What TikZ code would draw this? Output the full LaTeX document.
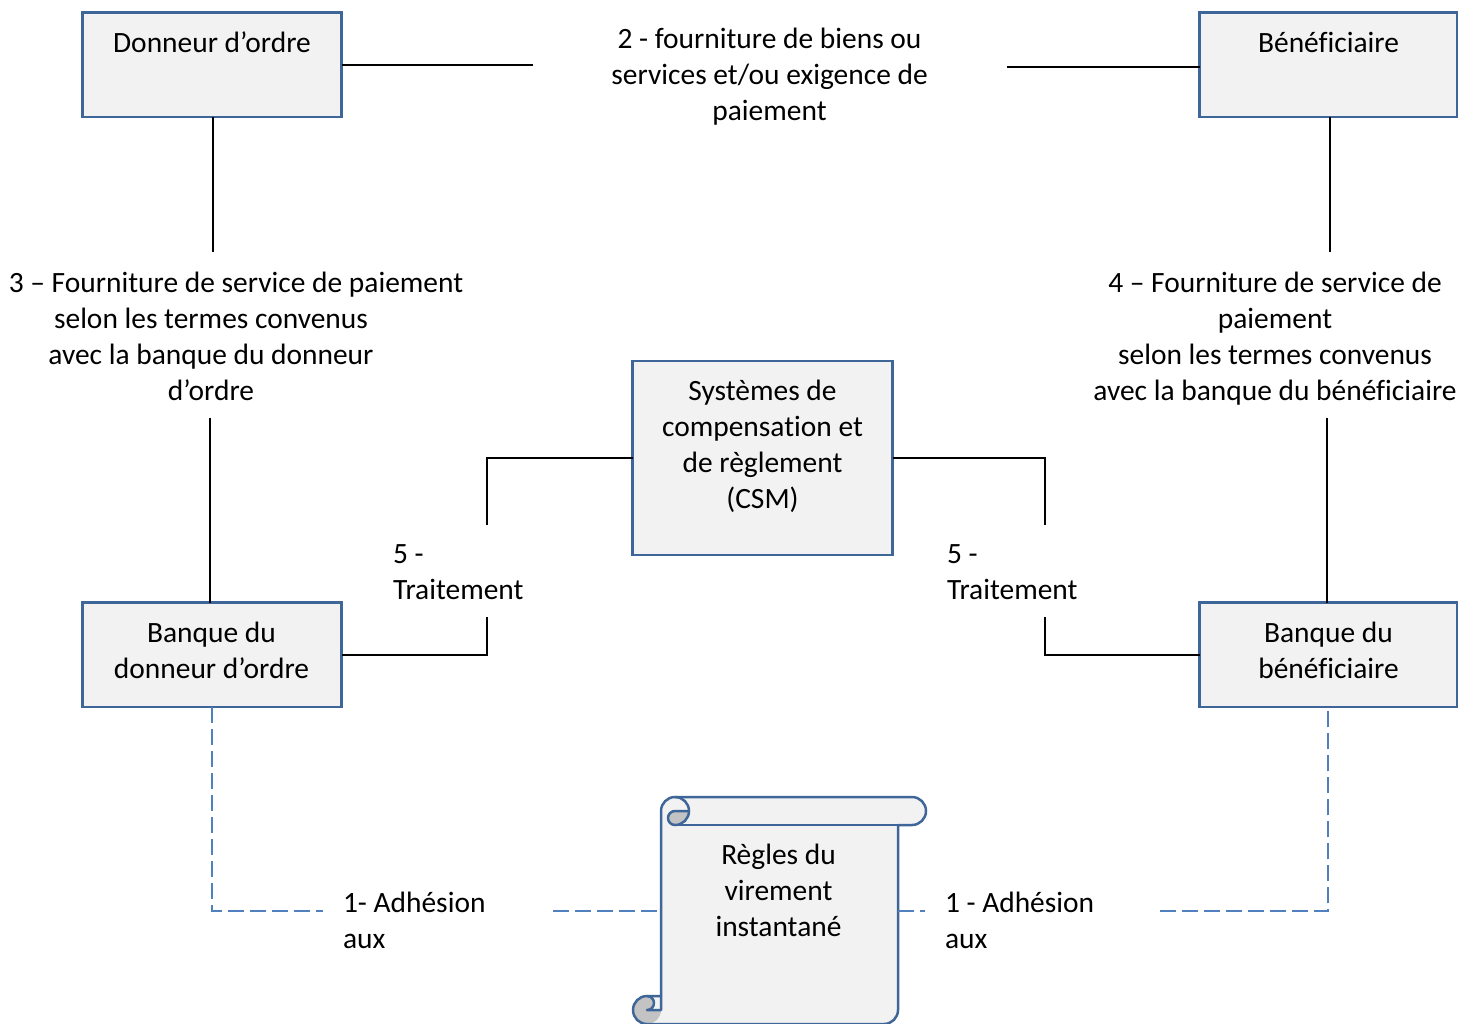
\documentclass[tikz,border=0pt]{standalone}
\usepackage{fontspec}
\setmainfont{Carlito}[Ligatures={NoCommon}]
\definecolor{boxline}{HTML}{3F6698}
\definecolor{boxfill}{HTML}{F2F2F2}
\definecolor{dashblue}{HTML}{5080BE}
\definecolor{curlgray}{HTML}{C3C3C3}
\begin{document}
\begin{tikzpicture}[x=1pt,y=1pt,
  every node/.style={font=\fontsize{29.45}{36}\selectfont, inner sep=0pt, outer sep=0pt},
  entity/.style={draw=boxline, fill=boxfill, line width=2.5pt, rectangle},
  conn/.style={draw=black, line width=2pt},
  dconn/.style={draw=dashblue, line width=2pt, dash pattern=on 16pt off 6pt},
  lbl/.style={align=center, anchor=north},
  lbll/.style={align=left, anchor=north west},
  scrollline/.style={draw=boxline, line width=2.5pt, line join=round},
]
\useasboundingbox (0,0) rectangle (1458,-1023);

% ---------- boxes ----------
\node[entity, minimum width=259pt, minimum height=104.5pt] (don) at (212,-64.75) {};
\node[entity, minimum width=257.5pt, minimum height=104.5pt] (ben) at (1328.25,-64.75) {};
\node[entity, minimum width=260pt, minimum height=194pt] (csm) at (762.5,-458) {};
\node[entity, minimum width=259pt, minimum height=104.5pt] (bdo) at (212,-654.75) {};
\node[entity, minimum width=257.5pt, minimum height=104.5pt] (bbe) at (1328.25,-654.75) {};

% ---------- scroll ----------
\fill[boxfill] (661,-996) -- (661,-811) arc[start angle=180,end angle=90,radius=14pt]
  -- (912,-797) arc[start angle=90,end angle=-90,radius=14pt]
  -- (898,-825) -- (898,-1010) arc[start angle=0,end angle=-90,radius=14pt]
  -- (647,-1024) arc[start angle=270,end angle=90,radius=14pt] -- cycle;
\fill[curlgray] (647,-1010) circle[radius=14pt];
\fill[boxfill] (647,-996) arc[start angle=90,end angle=-90,radius=7pt] -- (661,-1010) -- (661,-996) -- cycle;
\fill[curlgray] (675,-811) -- (689,-811) arc[start angle=0,end angle=-90,radius=14pt]
  arc[start angle=270,end angle=90,radius=7pt] -- cycle;
\draw[scrollline] (661,-996) -- (661,-811) arc[start angle=180,end angle=90,radius=14pt]
  -- (912,-797) arc[start angle=90,end angle=-90,radius=14pt]
  -- (898,-825) -- (898,-1010) arc[start angle=0,end angle=-90,radius=14pt]
  -- (647,-1024) arc[start angle=270,end angle=90,radius=14pt] -- cycle;
\draw[scrollline] (675,-797) arc[start angle=90,end angle=-90,radius=14pt]
  arc[start angle=270,end angle=90,radius=7pt] -- (689,-811);
\draw[scrollline] (675,-825) -- (898,-825);
\draw[scrollline] (647,-996) arc[start angle=90,end angle=-90,radius=7pt] -- (661,-1010) -- (661,-996);
\node[minimum width=237pt, minimum height=227pt] (scroll) at (779.5,-910.5) {};

% ---------- texts ----------
\node[lbl] (tdon) at (212,-26.8) {\strut Donneur d’ordre};
\node[lbl] (tben) at (1328.5,-26.8) {\strut Bénéficiaire};
\node[lbl] (tcsm) at (762.5,-374.8) {\strut Systèmes de\\compensation et\\de règlement\\(CSM)};
\node[lbl] (tbdo) at (211.5,-616.8) {\strut Banque du\\donneur d’ordre};
\node[lbl] (tbbe) at (1328.5,-616.8) {\strut Banque du\\bénéficiaire};
\node[lbl] (tscr) at (778.5,-838.8) {\strut Règles du\\virement\\instantané};

\node[lbl] (t2) at (769.5,-22.8) {\strut 2 - fourniture de biens ou\\services et/ou exigence de\\paiement};
\node[lbl] (t3) at (211,-266.8) {\strut\hspace*{50pt}3 – Fourniture de service de paiement\\selon les termes convenus\\avec la banque du donneur\\d’ordre};
\node[lbl] (t4) at (1275,-266.8) {\strut 4 – Fourniture de service de\\paiement\\selon les termes convenus\\avec la banque du bénéficiaire};
\node[lbll] (t5l) at (393,-537.8) {\strut 5 -\\Traitement};
\node[lbll] (t5r) at (947,-537.8) {\strut 5 -\\Traitement};
\node[lbll] (t1l) at (343,-886.8) {\strut 1- Adhésion\\aux};
\node[lbll] (t1r) at (945,-886.8) {\strut 1 - Adhésion\\aux};

% ---------- connectors ----------
\coordinate (c2a) at (533,-65);
\coordinate (c2b) at (1007,-67);
\draw[conn] (don.east |- c2a) -- (c2a);
\draw[conn] (c2b) -- (ben.west |- c2b);

\coordinate (c3a) at (212.5,-252);
\coordinate (c3b) at (210,-418);
\draw[conn] (don.south -| c3a) -- (c3a);
\draw[conn] (c3b) -- (c3b |- bdo.north);

\coordinate (c4a) at (1330,-252);
\coordinate (c4b) at (1327,-418);
\draw[conn] (ben.south -| c4a) -- (c4a);
\draw[conn] (c4b) -- (c4b |- bbe.north);

\coordinate (c5a) at (487,-525);
\coordinate (c5b) at (487,-617);
\coordinate (c5c) at (1045,-525);
\coordinate (c5d) at (1045,-617);
\draw[conn] (csm.west) -| (c5a);
\draw[conn] (c5b) |- (bdo.east);
\draw[conn] (csm.east) -| (c5c);
\draw[conn] (c5d) |- (bbe.west);

\coordinate (d1a) at (323,-911);
\coordinate (d1b) at (553,-911);
\coordinate (d1c) at (925,-911);
\coordinate (d1d) at (1160,-911);
\draw[dconn] (bdo.south) |- (d1a);
\draw[dconn] (d1b) -- (d1b -| scroll.west);
\draw[dconn] (d1c -| scroll.east) -- (d1c);
\draw[dconn] (d1d) -| (bbe.south);
\end{tikzpicture}
\end{document}
